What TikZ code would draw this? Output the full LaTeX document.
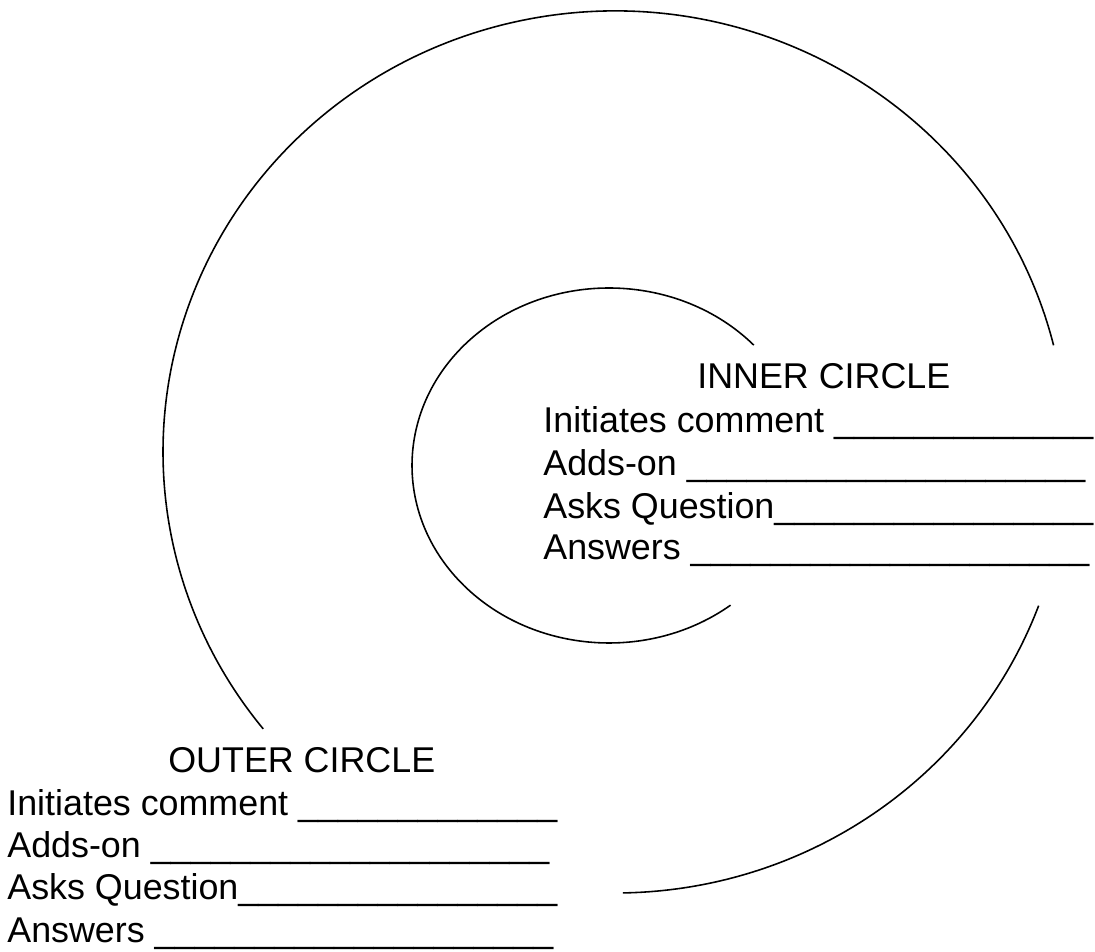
\documentclass[tikz,border=0pt]{standalone}
\usepackage{fontspec}
\setmainfont{Liberation Sans}
\usetikzlibrary{positioning}

\newcommand\fillblank[1]{\foreach \k in {1,...,#1}{\_}}
\tikzset{
  ring/.style={line width=0.9pt},
  rowtext/.style={anchor=base west, inner sep=0pt, font=\fontsize{20.4}{24}\selectfont},
}

\begin{document}
\begin{tikzpicture}[x=0.02cm,y=0.02cm]
\useasboundingbox (0,0) rectangle (1095,952);
\coordinate (outerMid) at (615,500);
\coordinate (innerMid) at (609,486.5);
% outer circle, two pieces
\draw[ring] (outerMid) ++(14:452 and 441) arc[start angle=14, end angle=218.9, x radius=452, y radius=441];
\draw[ring] (outerMid) ++(-89:452 and 441) arc[start angle=-89, end angle=-20.4, x radius=452, y radius=441];
% inner circle
\draw[ring] (innerMid) ++(42.7:197 and 177.5) arc[start angle=42.7, end angle=308.1, x radius=197, y radius=177.5];
% inner circle text
\node[rowtext] (innerTitle) at (697,563) {INNER CIRCLE};
\node[rowtext] (innerInit) at (543,519) {Initiates comment \fillblank{13}};
\node[rowtext] (innerAdd) at (543,476) {Adds-on \fillblank{20}};
\node[rowtext] (innerAsk) at (543,433.5) {Asks Question\fillblank{16}};
\node[rowtext] (innerAns) at (543,392) {Answers \fillblank{20}};
% outer circle text
\node[rowtext] (outerTitle) at (168,179) {OUTER CIRCLE};
\node[rowtext] (outerInit) at (7,136.7) {Initiates comment \fillblank{13}};
\node[rowtext] (outerAdd) at (7,94.4) {Adds-on \fillblank{20}};
\node[rowtext] (outerAsk) at (7,52) {Asks Question\fillblank{16}};
\node[rowtext] (outerAns) at (7,9.8) {Answers \fillblank{20}};
\end{tikzpicture}
\end{document}
